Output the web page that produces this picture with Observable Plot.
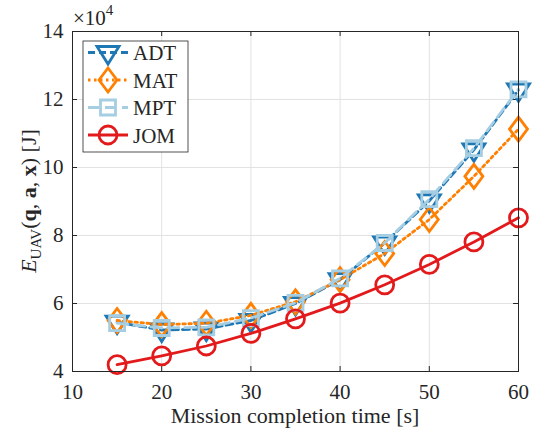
<!DOCTYPE html>
<html><head><meta charset="utf-8">
<script src="https://cdn.jsdelivr.net/npm/d3@7"></script>
<script src="https://cdn.jsdelivr.net/npm/@observablehq/plot@0.6"></script>
<style>body{margin:0;background:#fff}</style>
</head><body><div id="chart"></div>
<script>
// Mission completion time [s]
const times = [15, 20, 25, 30, 35, 40, 45, 50, 55, 60];
// Energy values in units of 10^4 J
const ADT = [5.45, 5.22, 5.25, 5.50, 6.00, 6.70, 7.78, 9.02, 10.52, 12.28];
const MAT = [5.50, 5.38, 5.42, 5.65, 6.05, 6.70, 7.47, 8.47, 9.74, 11.13];
const MPT = [5.42, 5.28, 5.30, 5.57, 6.02, 6.74, 7.78, 9.07, 10.57, 12.30];
const JOM = [4.20, 4.46, 4.75, 5.12, 5.55, 6.01, 6.55, 7.15, 7.81, 8.52];
const seriesNames = ["ADT", "MAT", "MPT", "JOM"];
const xTicks = [10, 20, 30, 40, 50, 60];
const yTicks = [4, 6, 8, 10, 12, 14];

const W = 546, H = 435, mL = 72, mR = 28, mT = 31, mB = 64;
const fw = W - mL - mR, fh = H - mT - mB;
const FONT = "'Liberation Serif', 'Times New Roman', serif";
const INK = "#262626";

const sym = {
  ADT: {draw(c) { c.moveTo(-11, -6); c.lineTo(11, -6); c.lineTo(0, 11.5); c.closePath(); }},
  MAT: {draw(c) { c.moveTo(0, -12); c.lineTo(9, 0); c.lineTo(0, 12); c.lineTo(-9, 0); c.closePath(); }},
  MPT: {draw(c) { c.moveTo(-7.5, -7.5); c.lineTo(7.5, -7.5); c.lineTo(7.5, 7.5); c.lineTo(-7.5, 7.5); c.closePath(); }},
  JOM: {draw(c) { c.moveTo(9, 0); c.arc(0, 0, 9, 0, 2 * Math.PI); c.closePath(); }}
};
const style = {
  ADT: {stroke: "#1f78b4", dash: "7,4"},
  MAT: {stroke: "#ff7f00", dash: "2.5,3.5"},
  MPT: {stroke: "#a6cee3", dash: "11,6"},
  JOM: {stroke: "#e31a1c", dash: null}
};
const values = {ADT, MAT, MPT, JOM};
const seriesMarks = seriesNames.flatMap(name => {
  const data = times.map((t, i) => ({t, v: values[name][i]}));
  const s = style[name];
  return [
    Plot.line(data, {x: "t", y: "v", stroke: s.stroke, strokeWidth: 2.8, strokeDasharray: s.dash}),
    Plot.dot(data, {x: "t", y: "v", symbol: sym[name], r: 9, stroke: s.stroke, strokeWidth: 2.8, fill: "none"})
  ];
});

const chart = Plot.plot({
  width: W, height: H,
  marginLeft: mL, marginRight: mR, marginTop: mT, marginBottom: mB,
  style: {fontFamily: FONT, fontSize: "21px", color: INK, background: "#fff"},
  x: {domain: [10, 60]},
  y: {domain: [4, 14]},
  marks: [
    Plot.gridX(xTicks, {stroke: "#e2e2e2", strokeOpacity: 1, strokeWidth: 1}),
    Plot.gridY(yTicks, {stroke: "#e2e2e2", strokeOpacity: 1, strokeWidth: 1}),
    Plot.axisX(xTicks, {tickSize: 0, tickPadding: 13, label: null, fontSize: 21}),
    Plot.axisY(yTicks, {tickSize: 0, tickPadding: 9, label: null, fontSize: 21}),
    Plot.tickX(xTicks, {x: d => d, insetTop: fh - 5, stroke: INK}),
    Plot.tickX(xTicks, {x: d => d, insetBottom: fh - 5, stroke: INK}),
    Plot.tickY(yTicks, {y: d => d, insetRight: fw - 5, stroke: INK}),
    Plot.tickY(yTicks, {y: d => d, insetLeft: fw - 5, stroke: INK}),
    ...seriesMarks,
    Plot.frame({stroke: INK, strokeWidth: 1})
  ]
});
document.getElementById("chart").appendChild(chart);

const svg = d3.select(chart);
// x label
svg.append("text").attr("x", mL + fw / 2).attr("y", 423).attr("text-anchor", "middle")
  .attr("font-family", FONT).attr("font-size", 22).attr("fill", INK)
  .text("Mission completion time [s]");
// y label
const yl = svg.append("text").attr("transform", `translate(36,${mT + fh / 2}) rotate(-90)`)
  .attr("text-anchor", "middle").attr("font-family", FONT).attr("font-size", 22).attr("fill", INK);
yl.append("tspan").attr("font-style", "italic").text("E");
yl.append("tspan").attr("font-size", 15).attr("dy", 5).text("UAV");
yl.append("tspan").attr("dy", -5).text("(");
yl.append("tspan").attr("font-weight", "bold").text("q");
yl.append("tspan").text(", ");
yl.append("tspan").attr("font-weight", "bold").text("a");
yl.append("tspan").text(", ");
yl.append("tspan").attr("font-weight", "bold").text("x");
yl.append("tspan").text(") [J]");
// exponent
const ex = svg.append("text").attr("x", 73).attr("y", 25).attr("text-anchor", "start")
  .attr("font-family", FONT).attr("font-size", 21).attr("fill", INK);
ex.append("tspan").text("×10");
ex.append("tspan").attr("font-size", 15).attr("dy", -10).text("4");
// legend
const lg = svg.append("g");
lg.append("rect").attr("x", 83).attr("y", 41).attr("width", 105).attr("height", 111)
  .attr("fill", "#fff").attr("stroke", INK).attr("stroke-width", 0.8);
seriesNames.forEach((name, i) => {
  const y = 52.5 + i * 27.5, s = style[name];
  lg.append("line").attr("x1", 88).attr("x2", 128).attr("y1", y).attr("y2", y)
    .attr("stroke", s.stroke).attr("stroke-width", 2.8).attr("stroke-dasharray", s.dash);
  lg.append("path").attr("d", d3.symbol(sym[name])()).attr("transform", `translate(108,${y})`)
    .attr("fill", "none").attr("stroke", s.stroke).attr("stroke-width", 2.8);
  lg.append("text").attr("x", 133).attr("y", y + 7.5).attr("text-anchor", "start")
    .attr("font-family", FONT).attr("font-size", 21).attr("fill", INK).text(name);
});
</script>
</body></html>
